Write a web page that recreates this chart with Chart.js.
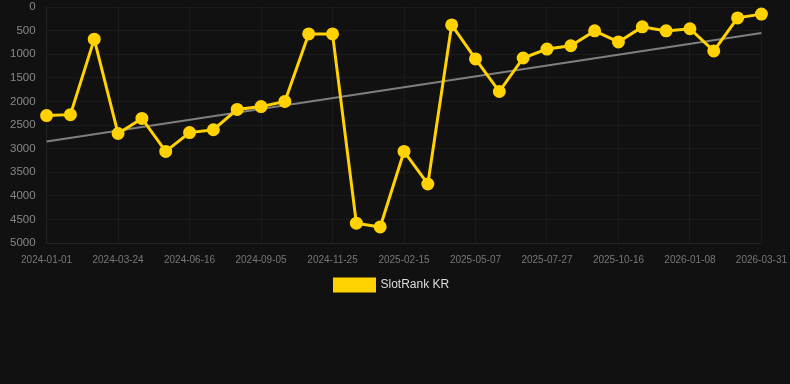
<!DOCTYPE html>
<html>
<head>
<meta charset="utf-8">
<script src="https://cdn.jsdelivr.net/npm/chart.js@4/dist/chart.umd.min.js"></script>
<style>
  html, body { margin: 0; padding: 0; background: #111111; overflow: hidden; }
  #wrap { width: 790px; height: 303px; position: relative; margin-top: -2px; }
</style>
</head>
<body>
<div id="wrap"><canvas id="c"></canvas></div>
<script>
const dates = [
  "2024-01-01","2024-01-28","2024-02-25","2024-03-24","2024-04-21","2024-05-19",
  "2024-06-16","2024-07-13","2024-08-09","2024-09-05","2024-10-02","2024-10-29",
  "2024-11-25","2024-12-22","2025-01-19","2025-02-15","2025-03-14","2025-04-10",
  "2025-05-07","2025-06-03","2025-06-30","2025-07-27","2025-08-23","2025-09-19",
  "2025-10-16","2025-11-12","2025-12-11","2026-01-08","2026-02-04","2026-03-03",
  "2026-03-31"
];
const rankKR = [
  2300, 2280, 680, 2680, 2360, 3060,
  2660, 2600, 2170, 2110, 2000, 570,
  570, 4580, 4660, 3060, 3750, 380,
  1100, 1790, 1080, 890, 820, 505,
  740, 420, 505, 460, 930, 230,
  150
];
const trendStart = 2850;
const trendEnd = 550;
const yTicks = [0, 500, 1000, 1500, 2000, 2500, 3000, 3500, 4000, 4500, 5000];
const seriesName = "SlotRank KR";

const trend = dates.map((d, i) => i === 0 ? trendStart : (i === dates.length - 1 ? trendEnd : null));

new Chart(document.getElementById('c'), {
  type: 'line',
  data: {
    labels: dates,
    datasets: [
      {
        label: seriesName,
        data: rankKR,
        borderColor: '#FFD200',
        backgroundColor: '#FFD200',
        borderWidth: 3,
        pointRadius: 5,
        pointBackgroundColor: '#FFD200',
        pointBorderColor: '#FFD200',
        tension: 0
      },
      {
        label: 'trend',
        data: trend,
        spanGaps: true,
        borderColor: 'rgba(140,140,140,0.9)',
        borderWidth: 2,
        pointRadius: 0,
        fill: false
      }
    ]
  },
  options: {
    responsive: true,
    maintainAspectRatio: false,
    animation: false,
    layout: { autoPadding: false, padding: { left: 7, top: 0, right: 0 } },
    plugins: {
      legend: {
        position: 'bottom',
        labels: {
          color: '#dddddd',
          font: { size: 12, family: 'Liberation Sans, Arial, sans-serif' },
          boxWidth: 40,
          filter: (item) => item.datasetIndex === 0,
          generateLabels: (chart) => {
            const items = Chart.defaults.plugins.legend.labels.generateLabels(chart);
            items.forEach(it => { it.text = it.text + '\u00a0\u00a0\u00a0\u00a0'; });
            return items;
          }
        }
      },
      tooltip: { enabled: false }
    },
    scales: {
      x: {
        grid: { color: 'rgba(255,255,255,0.045)', tickColor: 'rgba(0,0,0,0)' },
        border: { color: 'rgba(255,255,255,0.045)' },
        ticks: {
          color: '#777777',
          font: { size: 10, family: 'Liberation Sans, Arial, sans-serif' },
          autoSkip: false,
          maxRotation: 0,
          callback: function(value, index) {
            return index % 3 === 0 ? dates[index] : null;
          }
        }
      },
      y: {
        reverse: true,
        min: yTicks[0],
        max: yTicks[yTicks.length - 1],
        grid: { color: 'rgba(255,255,255,0.045)', tickColor: 'rgba(0,0,0,0)' },
        border: { color: 'rgba(255,255,255,0.045)' },
        afterBuildTicks: (axis) => { axis.ticks = yTicks.map(v => ({ value: v })); },
        ticks: {
          color: '#888888',
          font: { size: 11.5, lineHeight: 1.05, family: 'Liberation Sans, Arial, sans-serif' },
          callback: (v) => String(v)
        }
      }
    }
  }
});
</script>
</body>
</html>
